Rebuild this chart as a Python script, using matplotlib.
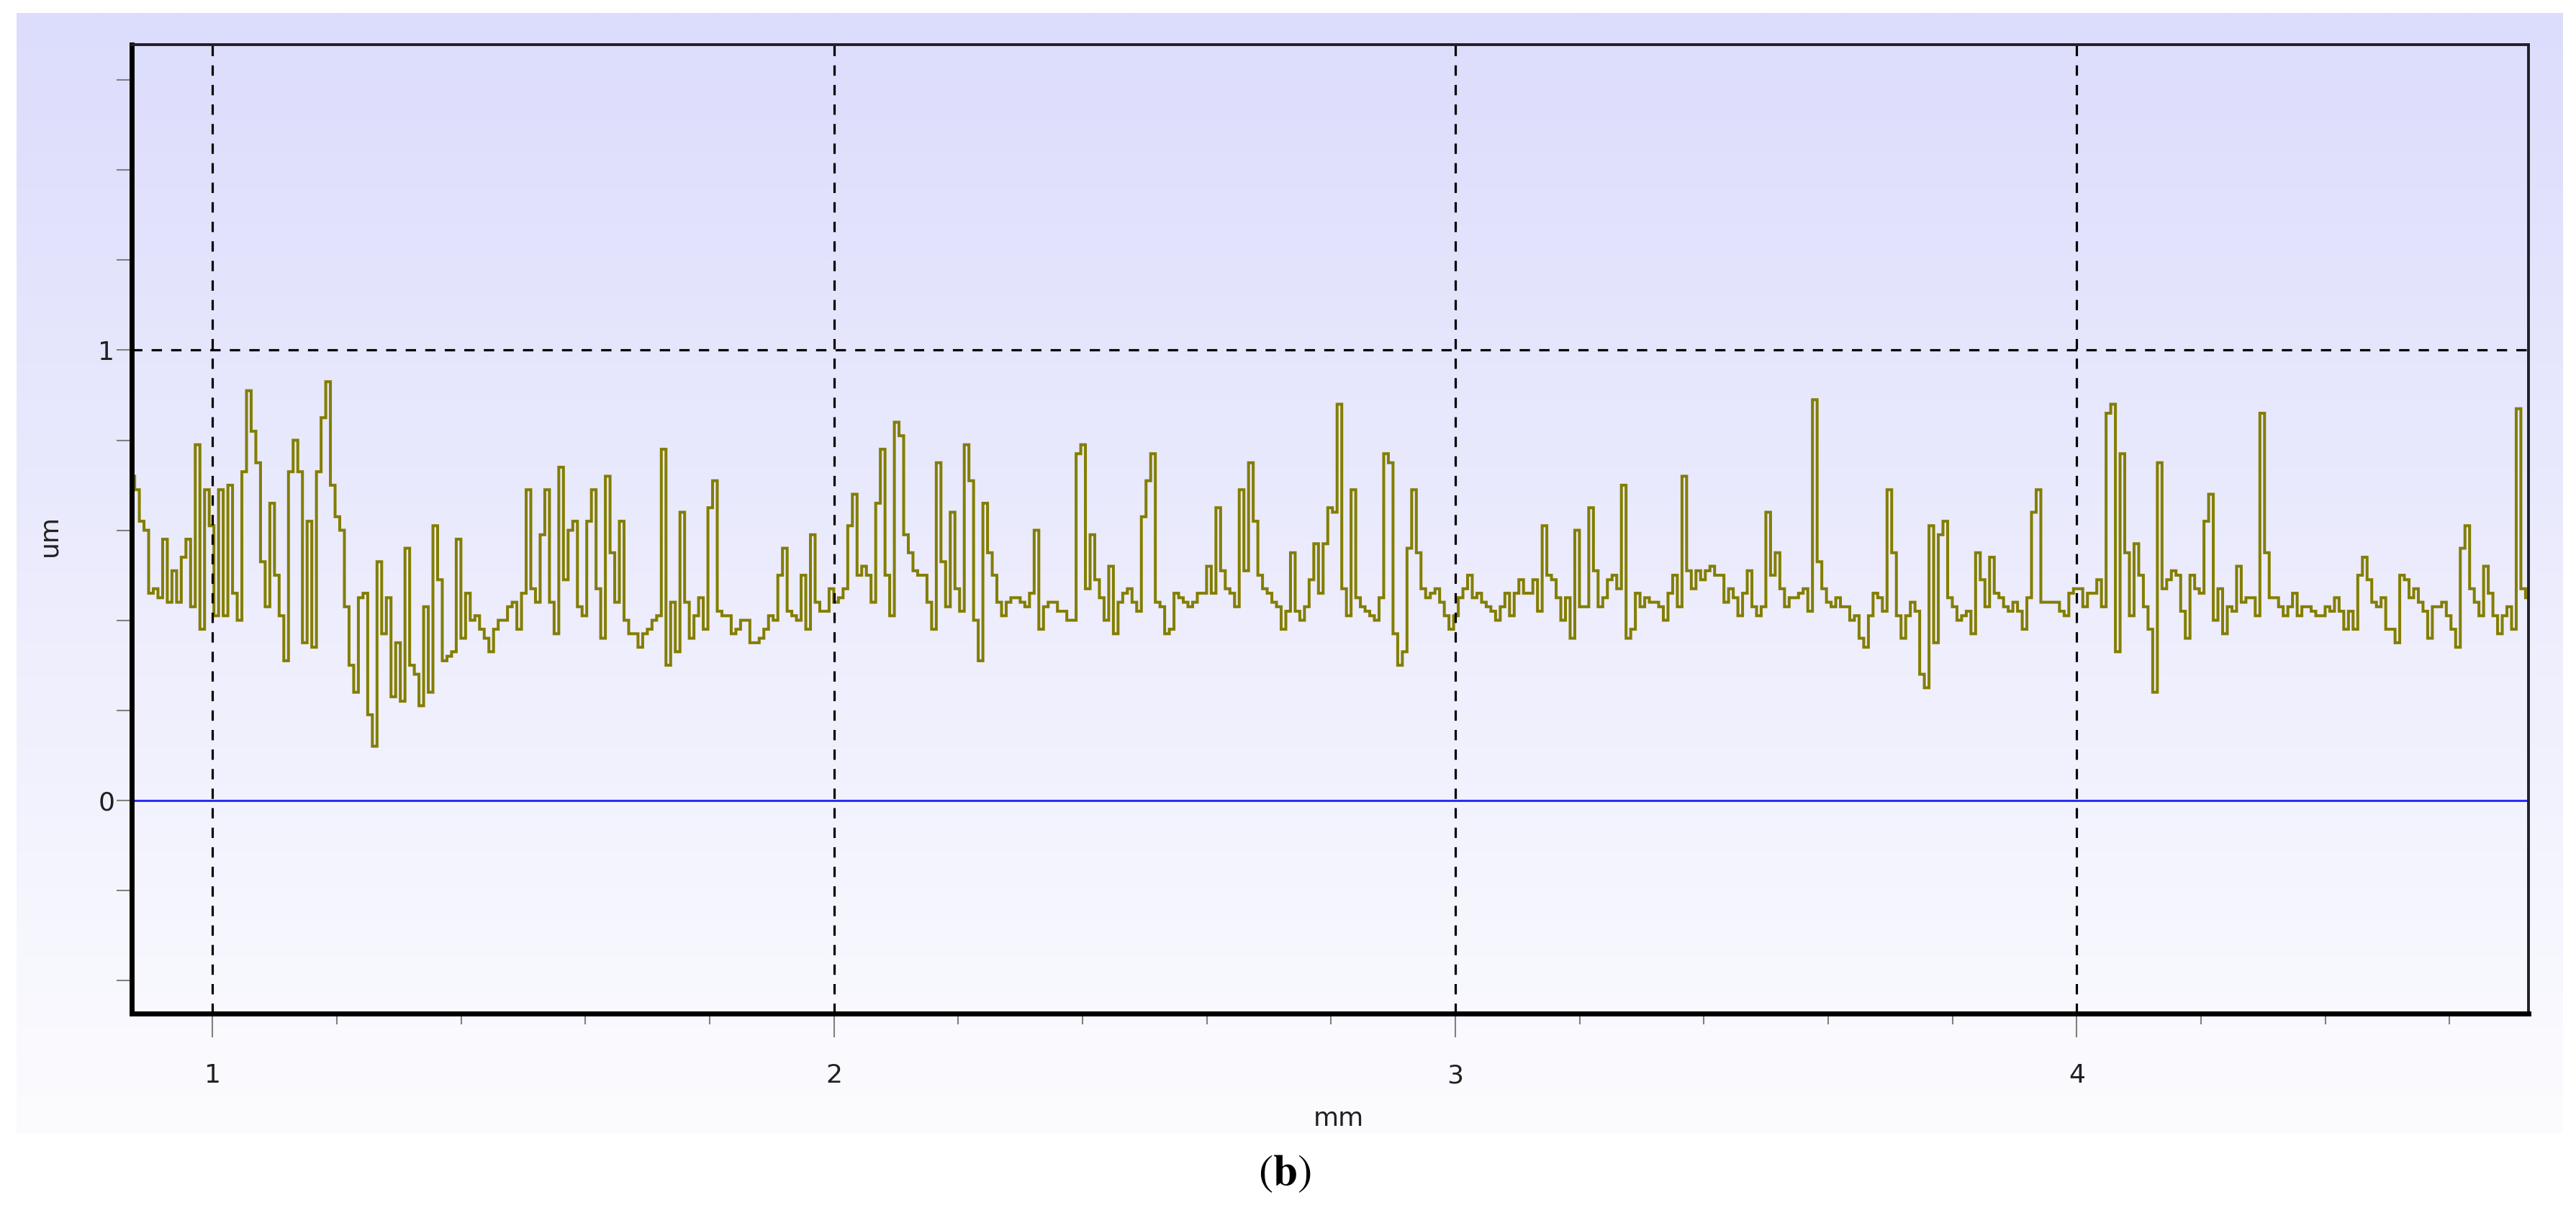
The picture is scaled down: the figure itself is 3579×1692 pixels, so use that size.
import numpy as np
import matplotlib
matplotlib.use("Agg")
import matplotlib.pyplot as plt
from matplotlib.ticker import MultipleLocator

# ---------------- data ----------------
x_start_mm = 0.871
x_step_mm = 0.0075

seg1 = [0.72, 0.69, 0.62, 0.60, 0.46, 0.47, 0.45, 0.58, 0.44, 0.51,
        0.44, 0.54, 0.58, 0.43, 0.79, 0.38, 0.69, 0.61, 0.41, 0.69,
        0.41, 0.70, 0.46, 0.40, 0.73, 0.91, 0.82, 0.75, 0.53, 0.43,
        0.66, 0.50, 0.41, 0.31, 0.73, 0.80, 0.73, 0.35, 0.62, 0.34,
        0.73, 0.85, 0.93, 0.70, 0.63, 0.60, 0.43, 0.30, 0.24, 0.45,
        0.46, 0.19, 0.12, 0.53, 0.37, 0.45, 0.23, 0.35, 0.22, 0.56,
        0.30, 0.28, 0.21, 0.43, 0.24, 0.61, 0.49, 0.31, 0.32, 0.33,
        0.58, 0.36, 0.46, 0.40, 0.41, 0.38, 0.36, 0.33, 0.38, 0.40,
        0.40, 0.43, 0.44, 0.38, 0.46, 0.69]
seg2 = [0.47, 0.44, 0.59, 0.69, 0.44, 0.37, 0.74, 0.49, 0.60, 0.62,
        0.43, 0.41, 0.62, 0.69, 0.47, 0.36, 0.72, 0.55, 0.44, 0.62,
        0.40, 0.37, 0.37, 0.34, 0.37, 0.38, 0.40, 0.41, 0.78, 0.30,
        0.44, 0.33, 0.64, 0.44, 0.36, 0.41, 0.45, 0.38, 0.65, 0.71,
        0.42, 0.41, 0.41, 0.37, 0.38, 0.40, 0.40, 0.35, 0.35, 0.36,
        0.38, 0.41, 0.40, 0.50, 0.56, 0.42, 0.41, 0.40, 0.50, 0.38,
        0.59, 0.44, 0.42, 0.42, 0.47, 0.44, 0.45, 0.47, 0.61, 0.68,
        0.50, 0.52, 0.50, 0.44, 0.66, 0.78, 0.50, 0.41, 0.84, 0.81,
        0.59, 0.55, 0.51, 0.50, 0.50, 0.44]
seg3 = [0.38, 0.75, 0.53, 0.43, 0.64, 0.47, 0.42, 0.79, 0.71, 0.40,
        0.31, 0.66, 0.55, 0.50, 0.44, 0.41, 0.44, 0.45, 0.45, 0.44,
        0.43, 0.46, 0.60, 0.38, 0.43, 0.44, 0.44, 0.42, 0.42, 0.40,
        0.40, 0.77, 0.79, 0.47, 0.59, 0.49, 0.45, 0.40, 0.52, 0.37,
        0.44, 0.46, 0.47, 0.44, 0.42, 0.63, 0.71, 0.77, 0.44, 0.43,
        0.37, 0.38, 0.46, 0.45, 0.44, 0.43, 0.44, 0.46, 0.46, 0.52,
        0.46, 0.65, 0.51, 0.47, 0.46, 0.43, 0.69, 0.51, 0.75, 0.62,
        0.50, 0.47, 0.46, 0.44, 0.43, 0.38, 0.42, 0.55, 0.42, 0.40,
        0.43, 0.49, 0.57, 0.46, 0.57, 0.65]
seg4 = [0.64, 0.88, 0.47, 0.41, 0.69, 0.45, 0.43, 0.42, 0.41, 0.40,
        0.45, 0.77, 0.75, 0.37, 0.30, 0.33, 0.56, 0.69, 0.55, 0.47,
        0.45, 0.46, 0.47, 0.44, 0.41, 0.38, 0.41, 0.45, 0.47, 0.50,
        0.45, 0.46, 0.44, 0.43, 0.42, 0.40, 0.43, 0.46, 0.41, 0.46,
        0.49, 0.46, 0.46, 0.49, 0.42, 0.61, 0.50, 0.49, 0.45, 0.40,
        0.45, 0.36, 0.60, 0.43, 0.43, 0.65, 0.51, 0.43, 0.45, 0.49,
        0.50, 0.47, 0.70, 0.36, 0.38, 0.46, 0.43, 0.45, 0.44, 0.44,
        0.43, 0.40, 0.46, 0.50, 0.43, 0.72, 0.51, 0.47, 0.51, 0.49,
        0.51, 0.52, 0.50, 0.50, 0.44, 0.47]
seg5 = [0.45, 0.41, 0.46, 0.51, 0.43, 0.41, 0.43, 0.64, 0.50, 0.55,
        0.47, 0.43, 0.45, 0.45, 0.46, 0.47, 0.42, 0.89, 0.53, 0.47,
        0.44, 0.43, 0.45, 0.43, 0.43, 0.40, 0.41, 0.36, 0.34, 0.41,
        0.46, 0.45, 0.42, 0.69, 0.55, 0.41, 0.36, 0.41, 0.44, 0.42,
        0.28, 0.25, 0.61, 0.35, 0.59, 0.62, 0.45, 0.43, 0.40, 0.41,
        0.42, 0.37, 0.55, 0.49, 0.43, 0.54, 0.46, 0.45, 0.43, 0.42,
        0.44, 0.42, 0.38, 0.45, 0.64, 0.69, 0.44, 0.44, 0.44, 0.44,
        0.42, 0.41, 0.46, 0.47, 0.47, 0.43, 0.46, 0.46, 0.49, 0.43,
        0.86, 0.88, 0.33, 0.77, 0.55, 0.41]
seg6 = [0.57, 0.50, 0.43, 0.38, 0.24, 0.75, 0.47, 0.49, 0.51, 0.50,
        0.42, 0.36, 0.50, 0.47, 0.46, 0.62, 0.68, 0.40, 0.47, 0.37,
        0.43, 0.42, 0.52, 0.44, 0.45, 0.45, 0.41, 0.86, 0.55, 0.45,
        0.45, 0.43, 0.41, 0.43, 0.46, 0.41, 0.43, 0.43, 0.42, 0.41,
        0.41, 0.43, 0.42, 0.45, 0.42, 0.38, 0.42, 0.38, 0.50, 0.54,
        0.49, 0.44, 0.43, 0.45, 0.38, 0.38, 0.35, 0.50, 0.49, 0.45,
        0.47, 0.44, 0.42, 0.36, 0.43, 0.43, 0.44, 0.41, 0.38, 0.34,
        0.56, 0.61, 0.47, 0.44, 0.41, 0.52, 0.46, 0.41, 0.37, 0.41,
        0.43, 0.38, 0.87, 0.47, 0.45]

height_um = np.array(seg1 + seg2 + seg3 + seg4 + seg5 + seg6)
position_mm = x_start_mm + x_step_mm * np.arange(len(height_um))

x_major_ticks = [1, 2, 3, 4]
x_tick_labels = ["1", "2", "3", "4"]
y_ticks = [-0.4, -0.2, 0.0, 0.2, 0.4, 0.6, 0.8, 1.0, 1.2, 1.4, 1.6]
y_tick_labels = ["", "", "0", "", "", "", "", "1", "", "", ""]
x_label = "mm"
y_label = "um"
panel_label = r"$(\mathbf{b})$"

# ---------------- figure ----------------
plt.rcParams["mathtext.fontset"] = "stix"
plt.rcParams["font.family"] = ["DejaVu Sans"]

W, H = 3579, 1692
fig = plt.figure(figsize=(W / 100, H / 100), dpi=100, facecolor="white")

# gradient background panel
bg = fig.add_axes([23 / W, 1 - 1575 / H, (3561 - 23) / W, (1575 - 18) / H])
t = np.linspace(0, 1, 256)[:, None, None]
top = np.array([220, 220, 252]) / 255.0
bot = np.array([252, 252, 255]) / 255.0
img = top + (bot - top) * t
bg.imshow(img, aspect="auto", extent=[0, 1, 0, 1], origin="upper", interpolation="bilinear")
bg.set_axis_off()

# main axes
L, R, T, B = 183, 3513, 62, 1408
ax = fig.add_axes([L / W, 1 - B / H, (R - L) / W, (B - T) / H])
ax.set_facecolor("none")

ax.plot(position_mm, height_um, drawstyle="steps-mid", color="#837e00",
        lw=2.9, zorder=2, solid_joinstyle="miter")
ax.axhline(0, color="#2e2ef2", lw=2.2, zorder=3)
dash = (0, (4.5, 4.0))
for gx in x_major_ticks:
    ax.axvline(gx, color="black", lw=2.3, ls=dash, zorder=4)
ax.axhline(1.0, color="black", lw=2.3, ls=dash, zorder=4)

ax.set_xlim(0.870, 4.727)
ax.set_ylim(-0.474, 1.679)

ax.set_xticks(x_major_ticks)
ax.set_xticklabels(x_tick_labels)
ax.xaxis.set_minor_locator(MultipleLocator(0.2))
ax.set_yticks(y_ticks)
ax.set_yticklabels(y_tick_labels)

tick_color = "#808080"
ax.tick_params(axis="x", which="major", direction="out", length=24, width=1.5,
               color=tick_color, pad=26, labelsize=26, labelcolor="#202020")
ax.tick_params(axis="x", which="minor", direction="out", length=11, width=1.5,
               color=tick_color)
ax.tick_params(axis="y", which="major", direction="out", length=15, width=1.5,
               color=tick_color, pad=2, labelsize=26, labelcolor="#202020")

for side in ["left", "bottom"]:
    ax.spines[side].set_linewidth(5)
    ax.spines[side].set_color("black")
for side in ["top", "right"]:
    ax.spines[side].set_linewidth(2.8)
    ax.spines[side].set_color("#202028")
for sp in ax.spines.values():
    sp.set_zorder(6)

fig.text(1860 / W, 1 - 1554 / H, x_label, ha="center", va="center",
         fontsize=26, color="#202020")
fig.text(68 / W, 1 - 744 / H, y_label, ha="center", va="center",
         rotation=90, fontsize=26, color="#202020")
fig.text(1785 / W, 1 - 1630 / H, panel_label, ha="center", va="center",
         fontsize=44, color="black")

fig.savefig("out.png", dpi=100, facecolor="white")
